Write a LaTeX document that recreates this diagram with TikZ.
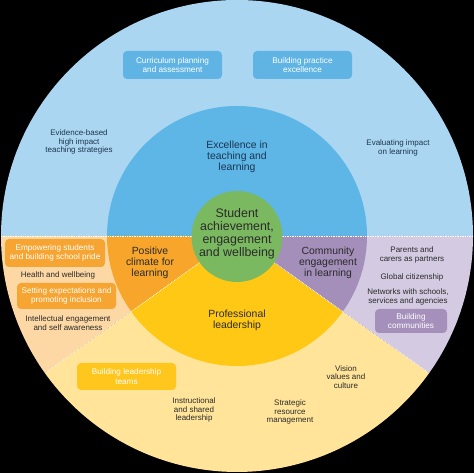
\documentclass[tikz,border=0pt]{standalone}
\usepackage{fontspec}
\setmainfont{Liberation Sans}
\definecolor{lblue}{HTML}{ABD6F1}
\definecolor{dblue}{HTML}{5DB6E6}
\definecolor{bbox}{HTML}{5FB4E4}
\definecolor{lorange}{HTML}{FDD8A4}
\definecolor{dorange}{HTML}{F7A52B}
\definecolor{obox}{HTML}{F6A532}
\definecolor{lyellow}{HTML}{FFE499}
\definecolor{dyellow}{HTML}{FFC815}
\definecolor{ybox}{HTML}{FFC61E}
\definecolor{lpurple}{HTML}{D4CAE2}
\definecolor{dpurple}{HTML}{A48FBB}
\definecolor{pbox}{HTML}{A590BB}
\definecolor{cgreen}{HTML}{7BB961}
\definecolor{txt}{HTML}{2A2A2A}
\definecolor{btxt}{HTML}{1C3550}
\begin{document}
\begin{tikzpicture}[x=1pt,y=1pt,
  small/.style={align=center, font=\fontsize{8}{8.4}\selectfont, text=txt, inner sep=0pt},
  smallb/.style={small, text=btxt},
  major/.style={align=center, font=\fontsize{10.4}{10.8}\selectfont, text=txt, inner sep=0pt},
  tag/.style={align=center, font=\fontsize{8.2}{9.6}\selectfont, text=white, rounded corners=4pt, inner sep=0pt, minimum width=99pt, minimum height=28pt},
  divider/.style={white, line width=0.7pt, densely dotted}]
\useasboundingbox (0,0) rectangle (474,473);
\fill[black] (0,0) rectangle (474,473);
\coordinate (C) at (237,237);
% outer ring sectors
\fill[lblue] (C) -- ++(0:236pt) arc[start angle=0,end angle=180,radius=236pt] -- cycle;
\fill[lorange] (C) -- ++(180:236pt) arc[start angle=180,end angle=215.5,radius=236pt] -- cycle;
\fill[lyellow] (C) -- ++(215.5:236pt) arc[start angle=215.5,end angle=324.5,radius=236pt] -- cycle;
\fill[lpurple] (C) -- ++(324.5:236pt) arc[start angle=324.5,end angle=360,radius=236pt] -- cycle;
% middle ring sectors
\fill[dblue] (C) -- ++(0:130pt) arc[start angle=0,end angle=180,radius=130pt] -- cycle;
\fill[dorange] (C) -- ++(180:130pt) arc[start angle=180,end angle=215.5,radius=130pt] -- cycle;
\fill[dyellow] (C) -- ++(215.5:130pt) arc[start angle=215.5,end angle=324.5,radius=130pt] -- cycle;
\fill[dpurple] (C) -- ++(324.5:130pt) arc[start angle=324.5,end angle=360,radius=130pt] -- cycle;
% dividers
\coordinate (dl) at (1,237);
\coordinate (dr) at (473,237);
\draw[divider] (dl) -- (dr);
\draw[divider] (C) -- ++(215.5:235pt) coordinate (ll);
\draw[divider] (C) -- ++(324.5:235pt) coordinate (lr);
% core
\node[circle, fill=cgreen, minimum size=91pt, inner sep=0pt] (core) at (237,236.5) {};
\node[align=center, font=\fontsize{12.4}{12.8}\selectfont, text=txt, inner sep=0pt] (student) at (237,239) {Student\\achievement,\\engagement\\and wellbeing};
% main labels
\node[major, text=btxt] (excellence) at (237,316) {Excellence in\\teaching and\\learning};
\node[major] (positive) at (150,210) {Positive\\climate for\\learning};
\node[major] (community) at (328,210) {Community\\engagement\\in learning};
\node[major] (professional) at (237,152.5) {Professional\\leadership};
% blue ring
\node[tag, fill=bbox] (curriculum) at (172.5,408) {Curriculum planning\\and assessment};
\node[tag, fill=bbox] (practice) at (302.5,408) {Building practice\\excellence};
\node[smallb] (evidence) at (79,331) {Evidence-based\\high impact\\teaching strategies};
\node[smallb] (evaluating) at (398,325) {Evaluating impact\\on learning};
% orange ring
\node[tag, fill=obox, minimum width=100pt] (empowering) at (55,220) {Empowering students\\and building school pride};
\node[small] (health) at (58,198) {Health and wellbeing};
\node[tag, fill=obox, minimum height=26pt] (setting) at (66.5,177) {Setting expectations and\\promoting inclusion};
\node[small] (intellectual) at (68,150) {Intellectual engagement\\and self awareness};
% yellow ring
\node[tag, fill=ybox, minimum height=27pt] (leadteams) at (126.5,96.5) {Building leadership\\teams};
\node[small] (instructional) at (194,63) {Instructional\\and shared\\leadership};
\node[small] (strategic) at (290,61) {Strategic\\resource\\management};
\node[small] (vision) at (346,96) {Vision\\values and\\culture};
% purple ring
\node[small] (parents) at (412,218) {Parents and\\carers as partners};
\node[small] (global) at (412,196) {Global citizenship};
\node[small] (networks) at (408,176) {Networks with schools,\\services and agencies};
\node[tag, fill=pbox, minimum width=72pt, minimum height=24pt] (communities) at (411,152) {Building\\communities};
\end{tikzpicture}
\end{document}
